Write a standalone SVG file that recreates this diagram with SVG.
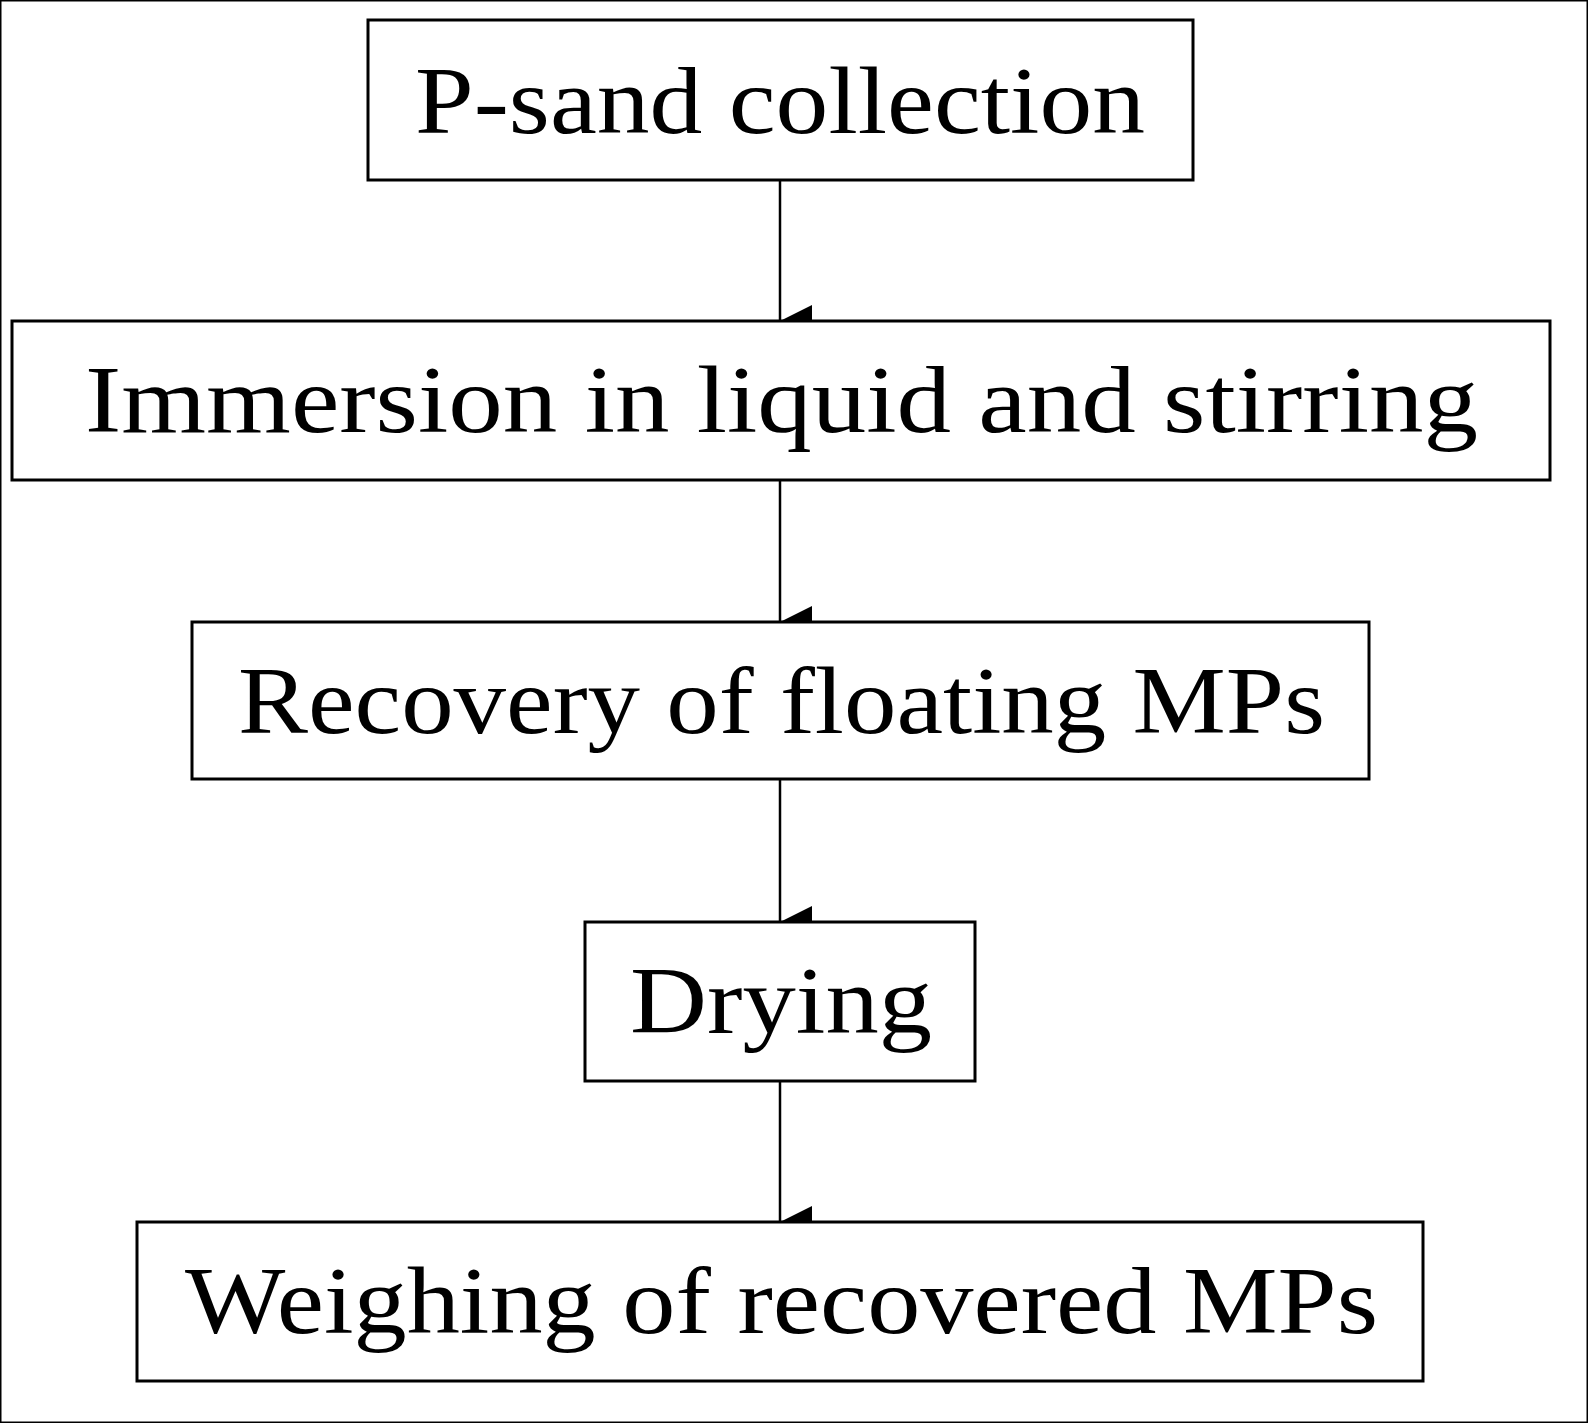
<svg xmlns="http://www.w3.org/2000/svg" width="1588" height="1423" viewBox="0 0 1588 1423">
<style>
rect{fill:#fff;stroke:#000;stroke-width:3}
text{font-family:"Liberation Serif","DejaVu Serif",serif;font-size:96px;fill:#000}
line{stroke:#000;stroke-width:2.5}
</style>
<defs><marker id="a" markerUnits="userSpaceOnUse" markerWidth="34" markerHeight="34" refX="17" refY="32" orient="auto-start-reverse" viewBox="0 0 34 34"><path d="M1,0 L33,0 L17,32 Z" fill="#000"/></marker></defs>
<rect width="1588" height="1423" fill="#fff" stroke="none"/>
<g id="connectors">
<line x1="780" y1="180" x2="780" y2="321" marker-end="url(#a)"/>
<line x1="780" y1="480" x2="780" y2="622" marker-end="url(#a)"/>
<line x1="780" y1="779" x2="780" y2="922" marker-end="url(#a)"/>
<line x1="780" y1="1081" x2="780" y2="1222" marker-end="url(#a)"/>
</g>
<g id="n1"><rect x="368" y="20" width="825" height="160"/><text x="415" y="133" textLength="730" lengthAdjust="spacingAndGlyphs">P-sand collection</text></g>
<g id="n2"><rect x="12" y="321" width="1538" height="159"/><text x="85" y="432" textLength="1393" lengthAdjust="spacingAndGlyphs">Immersion in liquid and stirring</text></g>
<g id="n3"><rect x="192" y="622" width="1177" height="157"/><text x="238" y="733" textLength="1087" lengthAdjust="spacingAndGlyphs">Recovery of floating MPs</text></g>
<g id="n4"><rect x="585" y="922" width="390" height="159"/><text x="630" y="1033" textLength="302" lengthAdjust="spacingAndGlyphs">Drying</text></g>
<g id="n5"><rect x="137" y="1222" width="1286" height="159"/><text x="185" y="1333" textLength="1193" lengthAdjust="spacingAndGlyphs">Weighing of recovered MPs</text></g>
</svg>
